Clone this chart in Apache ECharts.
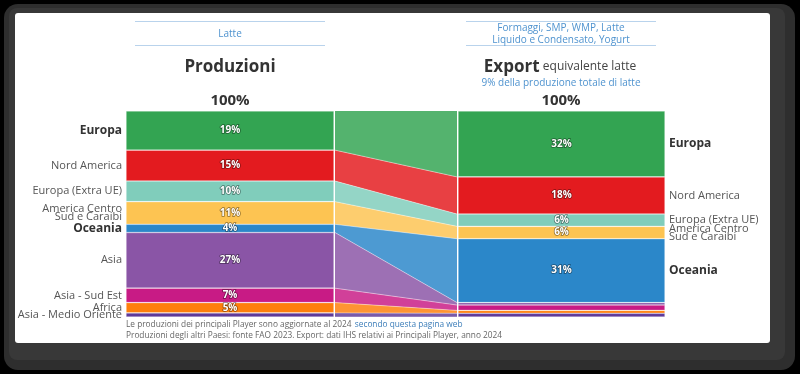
<!DOCTYPE html>
<html><head><meta charset="utf-8">
<script src="https://cdn.jsdelivr.net/npm/echarts@6/dist/echarts.min.js"></script>
<style>html,body{margin:0;padding:0;background:#000;}#c{width:800px;height:374px;}</style>
</head><body><div id="c"></div>
<script>
const regions = ['Europa','Nord America','Europa (Extra UE)','America Centro\nSud e Caraibi','Oceania','Asia','Asia - Sud Est','Africa','Asia - Medio Oriente'];
const colors = ['#33a452','#e31b1f','#80cdbb','#fdc452','#2b87c9','#8a55a6','#c81b85','#fe7f0c','#5f3a99'];
const production = [19,15,10,11,4,27,7,5,2];
const exportShare = [32,18,6,6,31,1.2,2.6,1.4,1.8];
const boldNames = ['Europa','Oceania'];
const exportNamed = ['Europa','Nord America','Europa (Extra UE)','America Centro\nSud e Caraibi','Oceania'];
const prodMinLabel = 3, expMinLabel = 5;

const FONT = 'Open Sans';
const chart = echarts.init(document.getElementById('c'), null, {renderer:'canvas'});

const pctLabel = (min) => ({
  show: true, position: 'inside', fontFamily: FONT, fontSize: 10, fontWeight: 'bold',
  color: '#fff', textBorderColor: 'rgba(0,0,0,0.45)', textBorderWidth: 1.5,
  formatter: p => p.value >= min ? Math.round(p.value) + '%' : ''
});
const nameLabel = (name, pos, shown) => ({
  show: shown, position: pos, distance: 4, fontFamily: FONT,
  fontSize: boldNames.includes(name) ? 12 : 11,
  fontWeight: boldNames.includes(name) ? 'bold' : 'normal',
  color: boldNames.includes(name) ? '#333' : '#555',
  lineHeight: name.includes('\n') ? 8 : 14,
  align: pos === 'left' ? 'right' : 'left',
  formatter: () => name
});

const series = [];
regions.forEach((name, i) => {
  const item = {color: colors[i], borderColor: 'rgba(255,255,255,0.45)', borderWidth: 0.6};
  series.push({type:'bar', xAxisIndex:0, yAxisIndex:0, stack:'prod', barWidth:'100%', barGap:'-100%',
    data:[production[i]], itemStyle:item, label:pctLabel(prodMinLabel), silent:true, animation:false});
  series.push({type:'bar', xAxisIndex:0, yAxisIndex:0, stack:'prodName', barWidth:'100%', barGap:'-100%',
    data:[production[i]], itemStyle:{color:'rgba(0,0,0,0)'}, label:nameLabel(name,'left',true), silent:true, animation:false});
  series.push({type:'line', xAxisIndex:1, yAxisIndex:1, stack:'flow', symbol:'none',
    data:[production[i], exportShare[i]],
    lineStyle:{color:'rgba(255,255,255,0.55)', width:0.8},
    areaStyle:{color:colors[i], opacity:0.84}, silent:true, animation:false});
  series.push({type:'bar', xAxisIndex:2, yAxisIndex:2, stack:'exp', barWidth:'100%', barGap:'-100%',
    data:[exportShare[i]], itemStyle:item, label:pctLabel(expMinLabel), silent:true, animation:false});
  series.push({type:'bar', xAxisIndex:2, yAxisIndex:2, stack:'expName', barWidth:'100%', barGap:'-100%',
    data:[exportShare[i]], itemStyle:{color:'rgba(0,0,0,0)'}, label:nameLabel(name,'right',exportNamed.includes(name)), silent:true, animation:false});
});

const yAx = i => ({type:'value', gridIndex:i, min:0, max:100, inverse:true, show:false});
const blue = '#4f93cf', lineBlue = '#b9d3ec';

const option = {
  backgroundColor: '#000',
  animation: false,
  grid: [
    {left:126, top:111, width:208, height:206},
    {left:335, top:111, width:122, height:206},
    {left:458, top:111, width:207, height:206}
  ],
  xAxis: [
    {type:'category', gridIndex:0, data:['Produzioni'], show:false},
    {type:'category', gridIndex:1, data:['Produzioni','Export'], boundaryGap:false, show:false},
    {type:'category', gridIndex:2, data:['Export'], show:false}
  ],
  yAxis: [yAx(0), yAx(1), yAx(2)],
  graphic: [
    {type:'rect', z:-10, shape:{x:4,y:4,width:791,height:366,r:14}, style:{fill:'#2e2e2e'}},
    {type:'rect', z:-10, shape:{x:9,y:8,width:776,height:352,r:8}, style:{fill:'#383838'}},
    {type:'rect', z:-9, shape:{x:15,y:13,width:755,height:330,r:3}, style:{fill:'#fff'}},
    {type:'line', z:-8, shape:{x1:135,y1:21.5,x2:325,y2:21.5}, style:{stroke:lineBlue,lineWidth:1}},
    {type:'line', z:-8, shape:{x1:135,y1:45.5,x2:325,y2:45.5}, style:{stroke:lineBlue,lineWidth:1}},
    {type:'line', z:-8, shape:{x1:466,y1:21.5,x2:656,y2:21.5}, style:{stroke:lineBlue,lineWidth:1}},
    {type:'line', z:-8, shape:{x1:466,y1:45.5,x2:656,y2:45.5}, style:{stroke:lineBlue,lineWidth:1}},
    {type:'text', style:{text:'Latte', x:230, y:34, fill:blue, font:'10px "Open Sans"', textAlign:'center', textVerticalAlign:'middle'}},
    {type:'text', style:{text:'Formaggi, SMP, WMP, Latte\nLiquido e Condensato, Yogurt', x:561, y:34, fill:blue, font:'10px "Open Sans"', lineHeight:11.5, textAlign:'center', textVerticalAlign:'middle'}},
    {type:'text', style:{text:'Produzioni', x:230, y:67, fill:'#333', font:'bold 17px "Open Sans"', textAlign:'center', textVerticalAlign:'middle'}},
    {type:'text', style:{text:'{a|Export} {b|equivalente latte}', x:560, y:67, textAlign:'center', textVerticalAlign:'middle',
      rich:{a:{fontFamily:FONT,fontSize:17,fontWeight:'bold',fill:'#333'}, b:{fontFamily:FONT,fontSize:12,fill:'#444'}}}},
    {type:'text', style:{text:'9% della produzione totale di latte', x:561, y:83, fill:blue, font:'10px "Open Sans"', textAlign:'center', textVerticalAlign:'middle'}},
    {type:'text', style:{text:'100%', x:230, y:101, fill:'#333', font:'bold 15px "Open Sans"', textAlign:'center', textVerticalAlign:'middle'}},
    {type:'text', style:{text:'100%', x:561, y:101, fill:'#333', font:'bold 15px "Open Sans"', textAlign:'center', textVerticalAlign:'middle'}},
    {type:'text', style:{text:'{g|Le produzioni dei principali Player sono aggiornate al 2024} {l|secondo questa pagina web}', x:126, y:325, textVerticalAlign:'middle',
      rich:{g:{fontFamily:FONT,fontSize:8.3,fill:'#666'}, l:{fontFamily:FONT,fontSize:8.3,fill:'#3a7cb8'}}}},
    {type:'text', style:{text:'Produzioni degli altri Paesi: fonte FAO 2023. Export: dati IHS relativi ai Principali Player, anno 2024', x:126, y:335.5, fill:'#666', font:'8.3px "Open Sans"', textVerticalAlign:'middle'}}
  ],
  series: series
};
chart.setOption(option);
</script></body></html>
